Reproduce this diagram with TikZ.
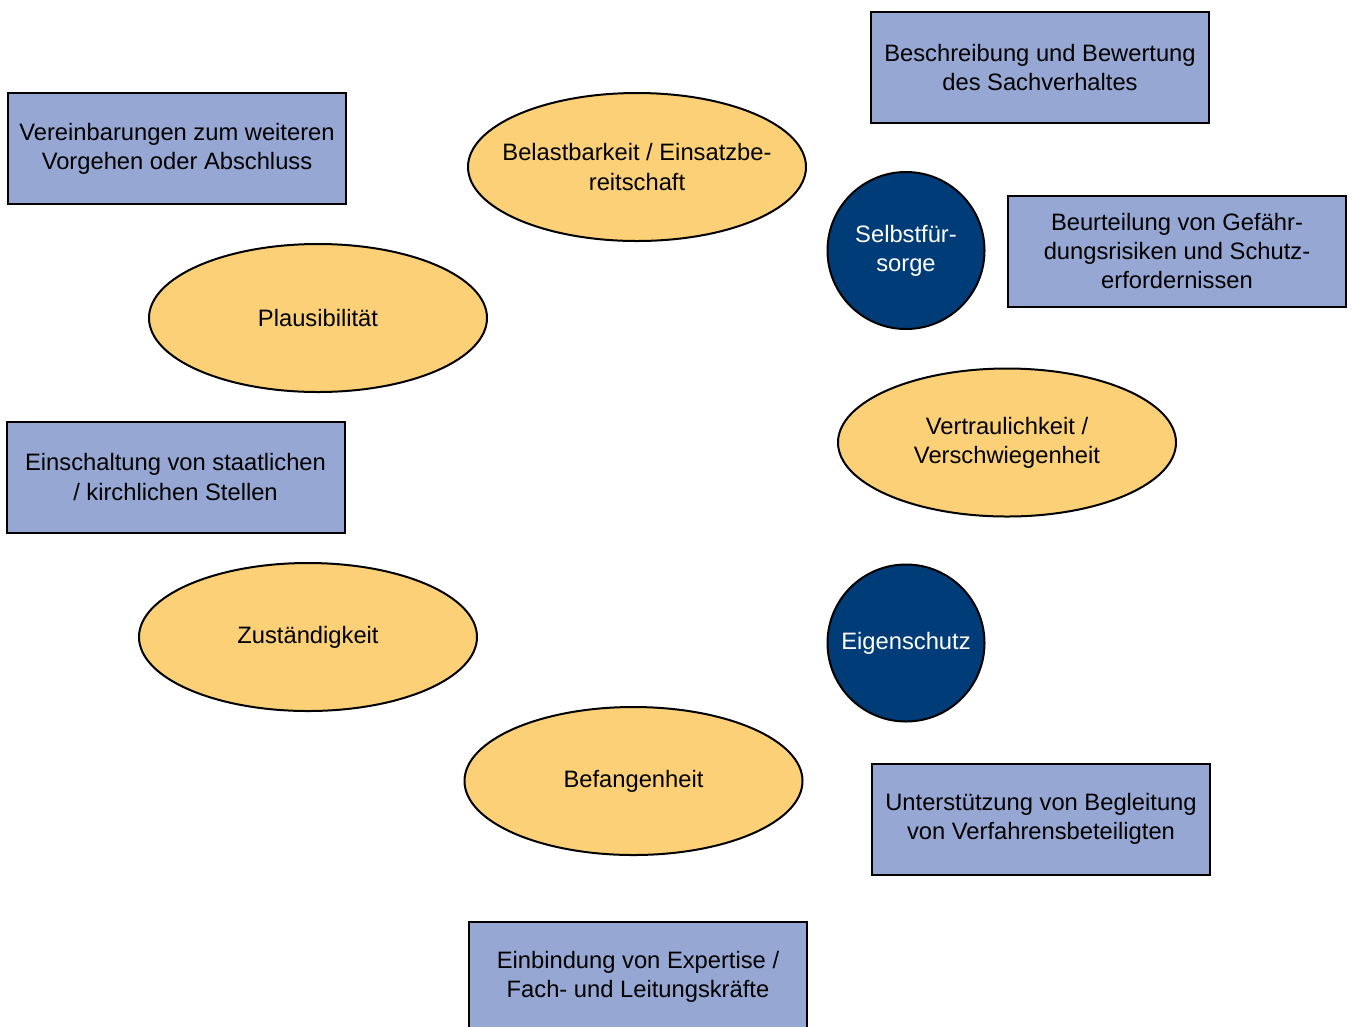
\documentclass[tikz,border=0pt]{standalone}
\usepackage{fontspec}
\setmainfont{Liberation Sans}
\usetikzlibrary{shapes.geometric}
\definecolor{boxblue}{HTML}{95A7D2}
\definecolor{ovalyellow}{HTML}{FBD077}
\definecolor{darkblue}{HTML}{003C78}
\begin{document}
\begin{tikzpicture}[x=0.75pt,y=-0.75pt,
  every node/.style={font=\fontsize{17.8}{21.8}\selectfont, align=center, line width=1.5pt, draw=black, inner sep=0pt},
  bluebox/.style={rectangle, fill=boxblue, minimum width=253.5pt, minimum height=83.25pt},
  oval/.style={ellipse, fill=ovalyellow, minimum width=253.5pt, minimum height=111pt, inner xsep=-22pt},
  disc/.style={circle, fill=darkblue, text=white, minimum size=117.75pt, inner sep=-10pt}]
\useasboundingbox (0,0) rectangle (1352,1026);
\begin{scope}
\clip (0,0) rectangle (1352,1026);
\node[bluebox] (beschreibung) at (1040,67.5) {Beschreibung und Bewertung\\des Sachverhaltes};
\node[bluebox] (vereinbarungen) at (177,148.5) {Vereinbarungen zum weiteren\\Vorgehen oder Abschluss};
\node[bluebox] (beurteilung) at (1177,251) {Beurteilung von Gefähr-\\dungsrisiken und Schutz-\\erfordernissen};
\node[bluebox] (einschaltung) at (175.5,477) {Einschaltung von staatlichen\\/ kirchlichen Stellen};
\node[bluebox] (unterstuetzung) at (1041,819) {Unterstützung von Begleitung\\von Verfahrensbeteiligten};
\node[bluebox] (einbindung) at (638,977) {Einbindung von Expertise /\\Fach- und Leitungskräfte};
\node[oval] (belastbarkeit) at (637,167) {Belastbarkeit / Einsatzbe-\\reitschaft};
\node[oval] (plausibilitaet) at (318,318) {Plausibilität};
\node[oval] (vertraulichkeit) at (1007,442.5) {Vertraulichkeit /\\Verschwiegenheit};
\node[oval] (zustaendigkeit) at (308,637) {Zuständigkeit};
\node[oval] (befangenheit) at (633.5,781) {Befangenheit};
\node[disc] (selbstfuersorge) at (906,250.5) {Selbstfür-\\sorge};
\node[disc] (eigenschutz) at (906,643) {Eigenschutz};
\end{scope}
\end{tikzpicture}
\end{document}
